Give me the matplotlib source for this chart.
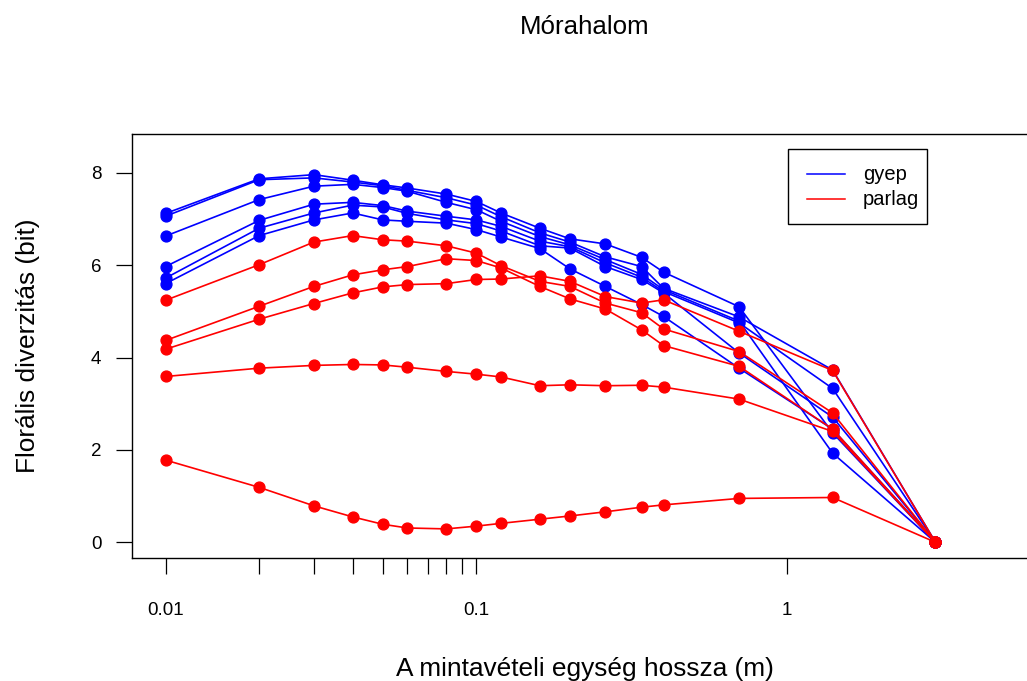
import numpy as np
import matplotlib.pyplot as plt
from matplotlib.lines import Line2D
from matplotlib.patches import Rectangle

plt.rcParams['font.family'] = ['Liberation Sans', 'DejaVu Sans']

# sampling unit length (m)
hossz = [0.01, 0.02, 0.03, 0.04, 0.05, 0.06, 0.08, 0.1, 0.12, 0.16,
         0.2, 0.26, 0.34, 0.4, 0.7, 1.4, 3.0]

# gyep (grassland) series
gyep_1 = [7.12, 7.87, 7.96, 7.84, 7.74, 7.67, 7.54, 7.38, 7.13, 6.80, 6.57, 6.46, 6.17, 5.85, 5.10, 2.37, 0]
gyep_2 = [7.06, 7.85, 7.89, 7.80, 7.72, 7.62, 7.46, 7.30, 7.05, 6.70, 6.50, 6.18, 5.97, 5.50, 4.88, 3.73, 0]
gyep_3 = [6.63, 7.42, 7.71, 7.75, 7.68, 7.60, 7.36, 7.20, 6.95, 6.62, 6.44, 6.12, 5.80, 5.47, 4.79, 1.93, 0]
gyep_4 = [5.97, 6.97, 7.32, 7.36, 7.29, 7.17, 7.06, 6.98, 6.84, 6.52, 6.40, 6.05, 5.74, 5.43, 4.75, 3.33, 0]
gyep_5 = [5.72, 6.80, 7.13, 7.30, 7.26, 7.12, 6.98, 6.90, 6.74, 6.42, 6.37, 5.97, 5.69, 5.40, 4.10, 2.71, 0]
gyep_6 = [5.60, 6.64, 6.98, 7.13, 6.98, 6.95, 6.91, 6.77, 6.61, 6.36, 5.92, 5.54, 5.15, 4.89, 3.77, 2.45, 0]

# parlag (old field) series
parlag_1 = [5.24, 6.01, 6.50, 6.64, 6.55, 6.52, 6.42, 6.26, 5.99, 5.65, 5.54, 5.18, 4.97, 4.62, 4.13, 2.80, 0]
parlag_2 = [4.37, 5.11, 5.54, 5.79, 5.90, 5.97, 6.14, 6.10, 5.94, 5.54, 5.27, 5.05, 4.60, 4.26, 3.81, 2.45, 0]
parlag_3 = [4.18, 4.83, 5.17, 5.40, 5.53, 5.58, 5.60, 5.69, 5.70, 5.77, 5.65, 5.32, 5.18, 5.25, 4.57, 3.72, 0]
parlag_4 = [3.59, 3.77, 3.83, 3.85, 3.84, 3.79, 3.70, 3.64, 3.58, 3.39, 3.41, 3.39, 3.40, 3.36, 3.10, 2.40, 0]
parlag_5 = [1.78, 1.19, 0.79, 0.55, 0.39, 0.31, 0.29, 0.35, 0.41, 0.50, 0.57, 0.66, 0.76, 0.81, 0.95, 0.97, 0]

gyep = [gyep_1, gyep_2, gyep_3, gyep_4, gyep_5, gyep_6]
parlag = [parlag_1, parlag_2, parlag_3, parlag_4, parlag_5]

x_ticks = [0.01, 0.02, 0.03, 0.04, 0.05, 0.06, 0.07, 0.08, 0.09, 0.1, 1]
x_labels = ['0.01', '', '', '', '', '', '', '', '', '0.1', '1']
y_ticks = [0, 2, 4, 6, 8]

W, H = 1027, 681
fig = plt.figure(figsize=(W / 100, H / 100), dpi=100)
ax = fig.add_axes([132 / W, 1 - 558 / H, (1038 - 132) / W, (558 - 134) / H])

for s in gyep:
    ax.plot(hossz, s, color='#0000ff', lw=1.2, marker='o', ms=7.8)
for s in parlag:
    ax.plot(hossz, s, color='#ff0000', lw=1.2, marker='o', ms=7.8)

ax.set_xscale('log')
lo, hi = np.log10(0.01), np.log10(5)
ext = 0.04 * (hi - lo)
ax.set_xlim(10 ** (lo - ext), 10 ** (hi + ext))
ax.set_ylim(-0.04 * 8.5, 8.5 * 1.04)

ax.set_xticks(x_ticks)
ax.set_xticklabels(x_labels)
ax.minorticks_off()
ax.set_yticks(y_ticks)
ax.tick_params(axis='x', length=11.5, width=0.9, pad=20, labelsize=13.5)
ax.tick_params(axis='y', length=11.5, width=0.9, pad=10.5, labelsize=13.5)
for sp in ax.spines.values():
    sp.set_linewidth(1.0)

fig.text(585 / W, 1 - 34 / H, 'Mórahalom', ha='center', va='baseline', fontsize=18.6)
fig.text(585 / W, 1 - 676 / H, 'A mintavételi egység hossza (m)', ha='center', va='baseline', fontsize=18.9)
fig.text(28 / W, 1 - 346 / H, 'Florális diverzitás (bit)', ha='center', va='center',
         rotation=90, fontsize=18.9)

# legend box drawn like R's legend()
fig.add_artist(Rectangle((788 / W, 1 - 224 / H), 139 / W, 75 / H, transform=fig.transFigure,
                         fill=False, edgecolor='black', lw=1.0))
for yy, col, lab in [(174, '#0000ff', 'gyep'), (199, '#ff0000', 'parlag')]:
    fig.add_artist(Line2D([807 / W, 845 / W], [1 - yy / H, 1 - yy / H], transform=fig.transFigure,
                          color=col, lw=1.1))
    fig.text(863 / W, 1 - yy / H, lab, ha='left', va='center', fontsize=14.5)

fig.savefig('out.png', dpi=100)
